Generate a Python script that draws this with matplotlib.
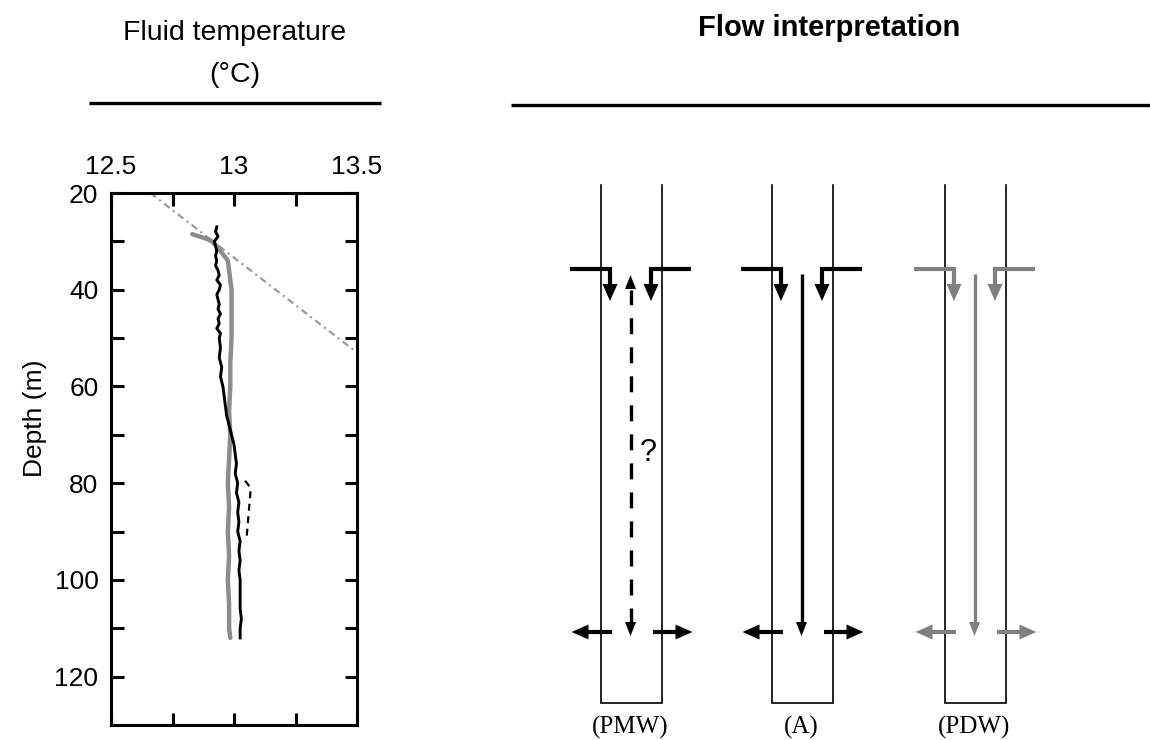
import matplotlib
matplotlib.use("Agg")
import matplotlib.pyplot as plt
from matplotlib.ticker import FixedLocator

plt.rcParams['font.family'] = ['Liberation Sans', 'DejaVu Sans']
plt.rcParams['lines.scale_dashes'] = False

# ---------------- data ----------------
black_depth = [27.0, 28.0, 29.0, 30.0, 31.0, 32.0, 33.0, 34.0, 35.0, 36.0, 37.0, 38.0,
               39.0, 40.0, 41.0, 42.0, 43.0, 44.0, 45.0, 46.0, 47.0, 48.0, 49.0, 50.0,
               52, 54, 56, 58, 60, 62, 64, 66, 68, 70, 72, 74, 76, 78, 80, 82, 84, 86,
               88, 90, 92, 94, 96, 98, 100, 102, 104, 106, 108, 110, 112]
black_temp = [12.93, 12.925, 12.935, 12.92, 12.925, 12.93, 12.925, 12.93, 12.925, 12.935,
              12.94, 12.93, 12.945, 12.94, 12.93, 12.935, 12.94, 12.935, 12.945, 12.935,
              12.94, 12.93, 12.945, 12.94, 12.945, 12.94, 12.95, 12.945, 12.955, 12.96,
              12.965, 12.97, 12.98, 12.99, 13.0, 13.005, 13.01, 13.005, 13.015, 13.01,
              13.02, 13.015, 13.02, 13.015, 13.025, 13.02, 13.025, 13.02, 13.025, 13.025,
              13.025, 13.025, 13.03, 13.025, 13.025]

gray_depth = [28.5, 29.0, 29.5, 30.0, 31.0, 32.0, 33.0, 34.0, 36, 38, 40, 45, 50, 55, 60,
              65, 70, 75, 80, 85, 90, 95, 100, 105, 110, 112]
gray_temp = [12.83, 12.86, 12.89, 12.91, 12.93, 12.945, 12.96, 12.975, 12.98, 12.985,
             12.99, 12.99, 12.99, 12.985, 12.985, 12.98, 12.985, 12.98, 12.975, 12.98,
             12.975, 12.98, 12.975, 12.98, 12.98, 12.985]

dash_depth = [79.5, 81, 83, 86, 89, 92]
dash_temp = [13.045, 13.068, 13.065, 13.06, 13.055, 13.05]

grad_temp = [12.66, 13.5]
grad_depth = [20, 53]

x_ticks = [12.5, 13, 13.5]
x_tick_labels = ['12.5', '13', '13.5']
y_ticks = [20, 40, 60, 80, 100, 120]

well_labels = ['(PMW)', '(A)', '(PDW)']
well_colors = ['black', 'black', '#808080']
well_center_dashed = [True, False, False]
well_question = [True, False, False]

# ---------------- figure ----------------
W, H = 1150, 740
fig = plt.figure(figsize=(W / 100, H / 100), dpi=100)

ov = fig.add_axes([0, 0, 1, 1])
ov.set_xlim(0, W)
ov.set_ylim(H, 0)
ov.axis('off')

# left panel
ax = fig.add_axes([111 / W, (H - 725) / H, 246 / W, 532 / H])
ax.plot(grad_temp, grad_depth, color='#9a9a9a', lw=1.6, ls=(0, (5, 3, 1.5, 3)))
ax.plot(gray_temp, gray_depth, color='#8c8c8c', lw=3.2, solid_capstyle='round')
ax.plot(black_temp, black_depth, color='black', lw=2.1)
ax.plot(dash_temp, dash_depth, color='black', lw=1.6, ls=(0, (5, 4)))

ax.set_xlim(12.5, 13.5)
ax.set_ylim(130, 20)
ax.xaxis.tick_top()
ax.set_xticks(x_ticks)
ax.set_xticklabels(x_tick_labels)
ax.xaxis.set_minor_locator(FixedLocator([12.75, 13.25]))
ax.set_yticks(y_ticks)
ax.yaxis.set_minor_locator(FixedLocator([30, 50, 70, 90, 110]))
ax.tick_params(which='both', direction='in', top=True, bottom=True, left=True,
               right=True, labelbottom=False, labeltop=True, length=9, width=2.2,
               labelsize=19)
ax.tick_params(axis='x', pad=10)
ax.tick_params(axis='y', pad=9)
for s in ax.spines.values():
    s.set_linewidth(2.2)

ov.text(35, 418, 'Depth (m)', rotation=90, ha='center', va='center', fontsize=19)

# headers
ov.text(235, 33, 'Fluid temperature', ha='center', va='center', fontsize=20.5)
ov.text(235, 75, '(°C)', ha='center', va='center', fontsize=20.5)
ov.plot([89, 381], [103, 103], color='black', lw=2.4, solid_capstyle='butt')
ov.text(829, 28, 'Flow interpretation', ha='center', va='center', fontsize=21,
        fontweight='bold')
ov.plot([511, 1150], [105, 105], color='black', lw=2.4, solid_capstyle='butt')


# ---------------- right panel: flow diagrams ----------------
def head(x, y, d, w, h, color):
    if d == 'down':
        pts = [(x - w / 2, y - h), (x + w / 2, y - h), (x, y)]
    elif d == 'up':
        pts = [(x - w / 2, y + h), (x + w / 2, y + h), (x, y)]
    elif d == 'left':
        pts = [(x + h, y - w / 2), (x + h, y + w / 2), (x, y)]
    else:
        pts = [(x - h, y - w / 2), (x - h, y + w / 2), (x, y)]
    xs, ys = zip(*pts)
    ov.fill(xs, ys, color=color, lw=0)


centers = [631.5, 802.5, 975.5]
top_y, bot_y = 185, 703
in_y, out_y = 269, 632
for c, lab, col, dashed, q in zip(centers, well_labels, well_colors,
                                  well_center_dashed, well_question):
    # well outline
    ov.plot([c - 30.5, c - 30.5, c + 30.5, c + 30.5], [top_y, bot_y, bot_y, top_y],
            color='black', lw=1.2, solid_joinstyle='miter')
    # inflow L-arrows
    lw_in = 3.0
    ov.plot([c - 62, c - 21.5, c - 21.5], [in_y, in_y, in_y + 16], color=col, lw=lw_in,
            solid_joinstyle='miter', solid_capstyle='butt')
    head(c - 21.5, in_y + 32, 'down', 15, 17, col)
    ov.plot([c + 59, c + 19.5, c + 19.5], [in_y, in_y, in_y + 16], color=col, lw=lw_in,
            solid_joinstyle='miter', solid_capstyle='butt')
    head(c + 19.5, in_y + 32, 'down', 15, 17, col)
    # outflow arrows
    ov.plot([c - 20, c - 45], [out_y, out_y], color=col, lw=lw_in, solid_capstyle='butt')
    head(c - 60, out_y, 'left', 15, 17, col)
    ov.plot([c + 21, c + 46], [out_y, out_y], color=col, lw=lw_in, solid_capstyle='butt')
    head(c + 61, out_y, 'right', 15, 17, col)
    # central flow
    cx = c - 1
    if dashed:
        ov.plot([cx, cx], [624, 290], color=col, lw=2.4, ls=(0, (11.5, 9.4)),
                dash_capstyle='butt')
        head(cx, 275, 'up', 11, 14, col)
        head(cx, 636, 'down', 11, 14, col)
    else:
        ov.plot([cx, cx], [274, 625], color=col, lw=2.4, solid_capstyle='butt')
        head(cx, 636, 'down', 11, 14, col)
    if q:
        ov.text(c + 17, 453, '?', ha='center', va='center', fontsize=22)
    ov.text(cx, 727, lab, ha='center', va='center', fontsize=18,
            family=['Liberation Serif', 'DejaVu Serif'])

fig.savefig('out.png', dpi=100)
